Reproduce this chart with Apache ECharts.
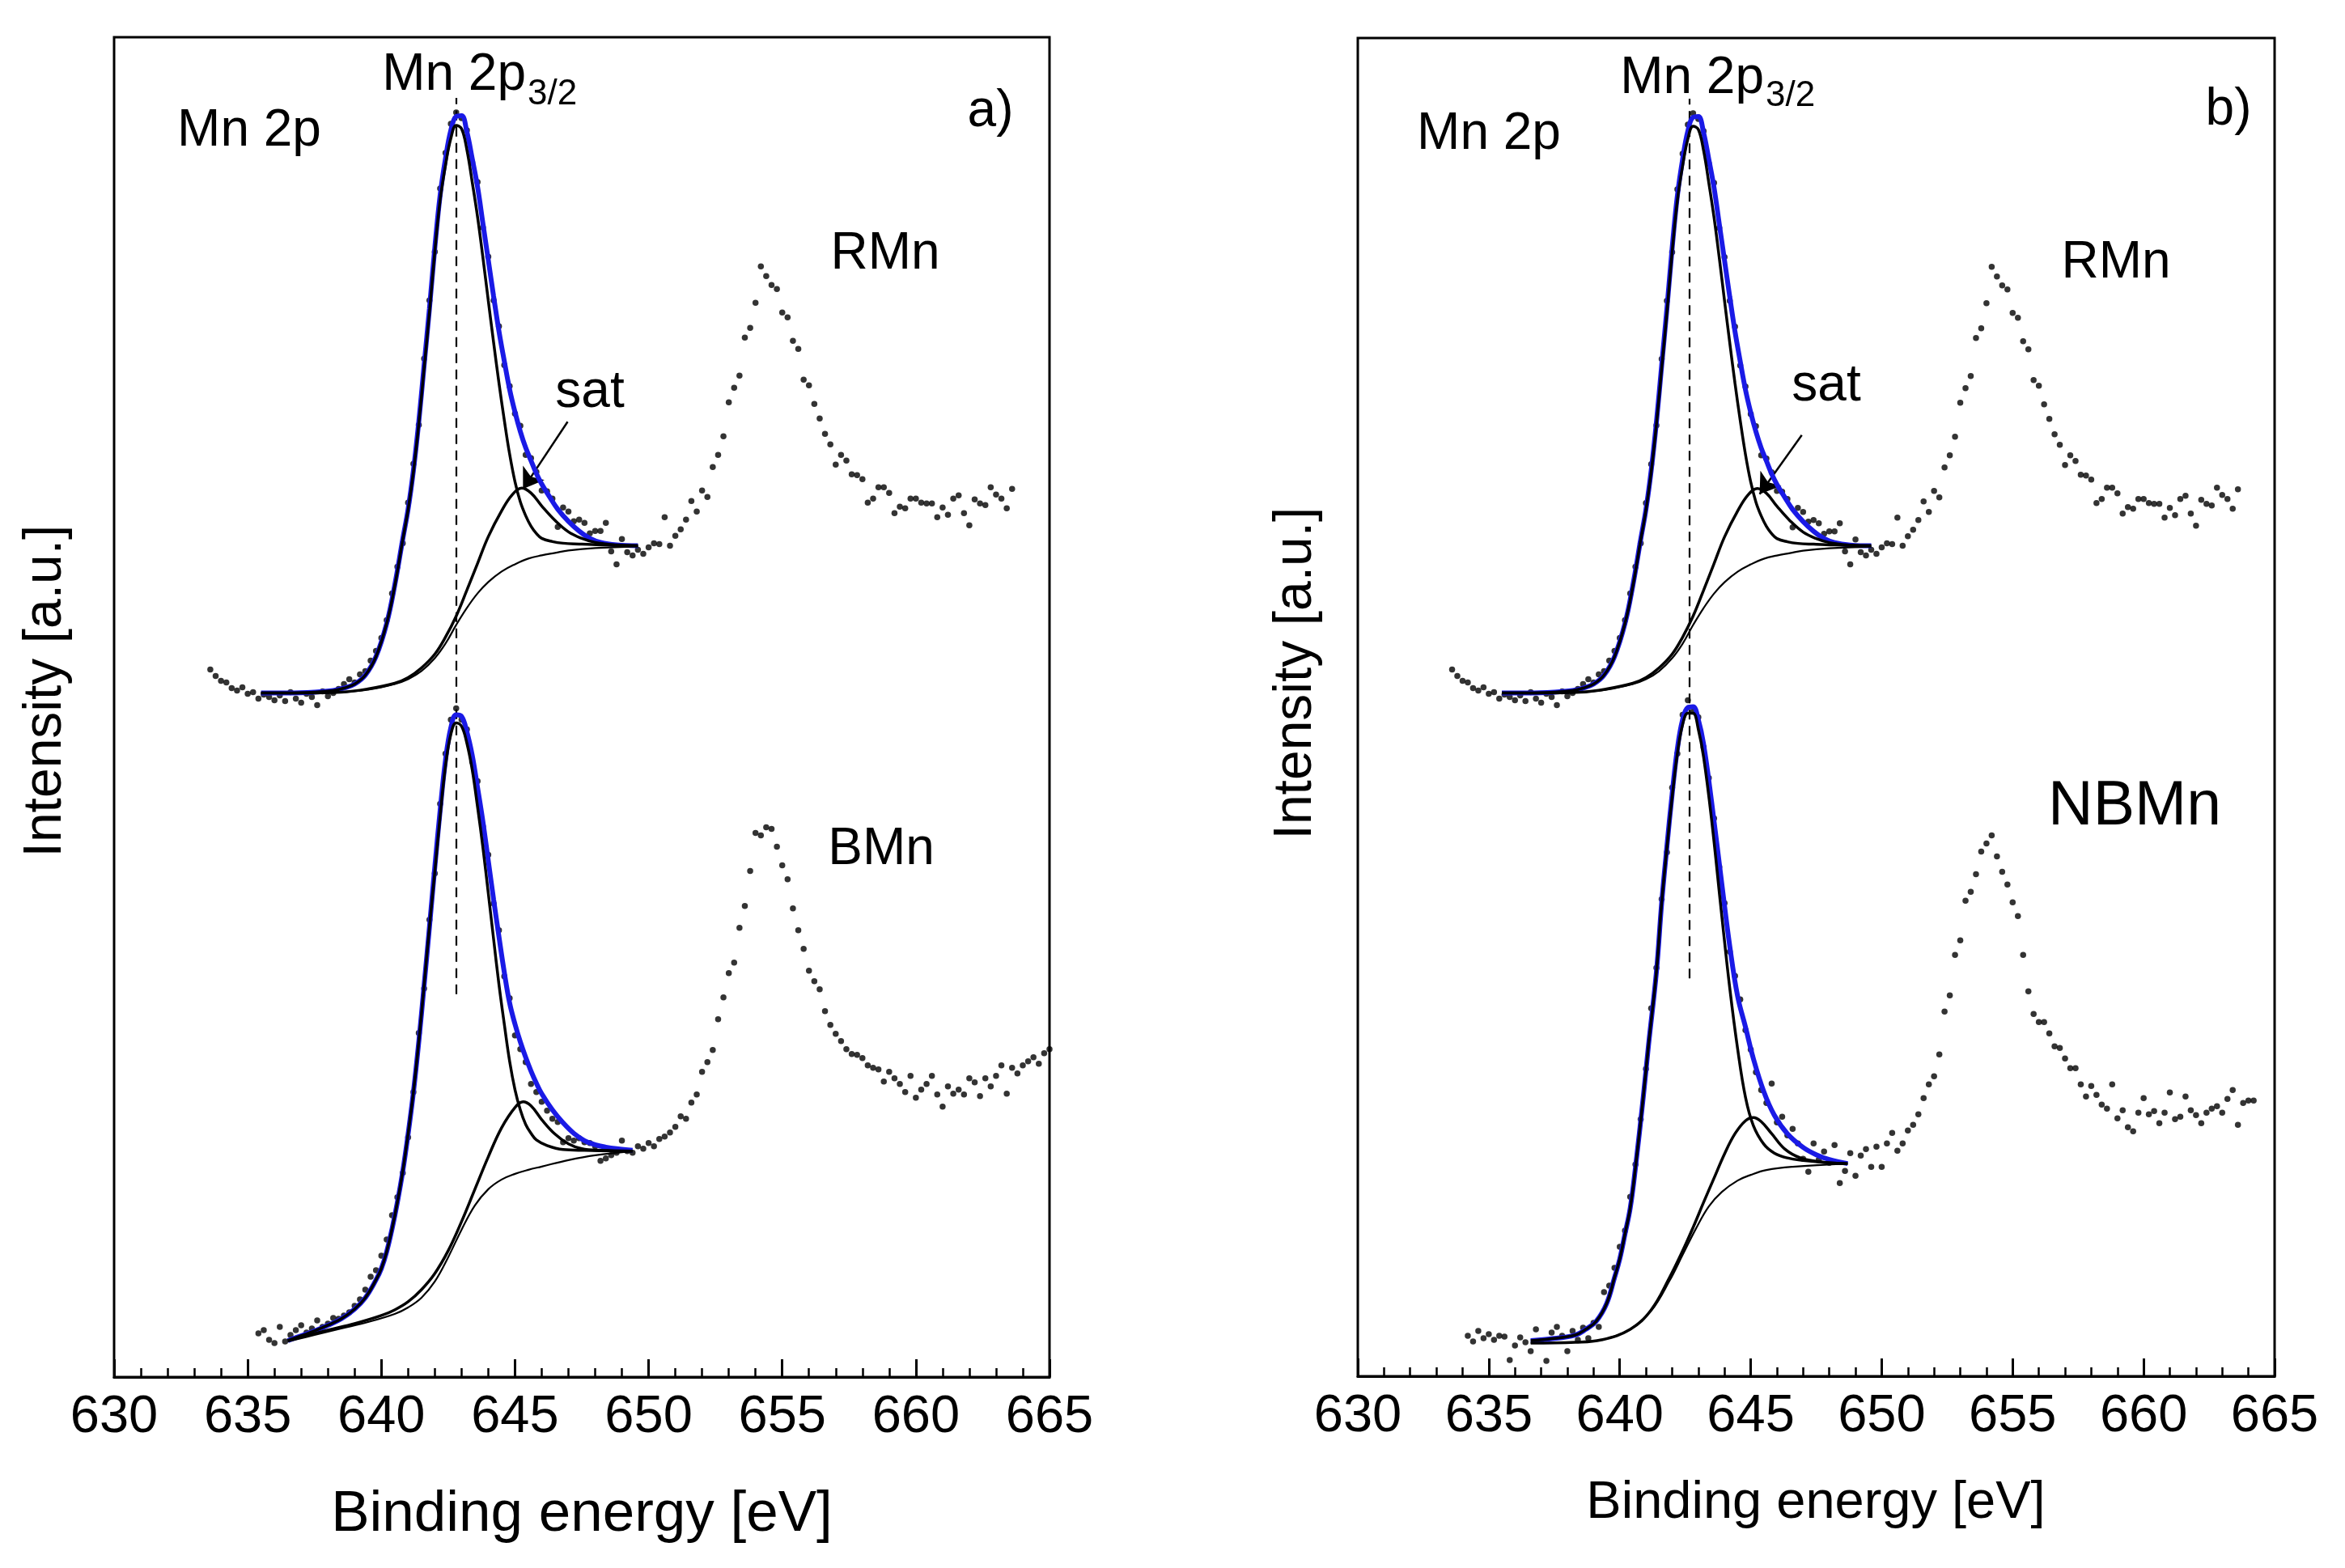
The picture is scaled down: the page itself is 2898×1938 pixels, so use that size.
<!DOCTYPE html>
<html>
<head>
<meta charset="utf-8">
<script src="https://cdn.jsdelivr.net/npm/echarts@6/dist/echarts.min.js"></script>
<style>
  html, body { margin: 0; padding: 0; background: #fff; }
  #chart { width: 2898px; height: 1938px; }
</style>
</head>
<body>
<div id="chart"></div>
<script>
// Mn 2p XPS spectra, intensity in arbitrary units
const eStep = 0.2;

// measured points (every 0.2 eV from the start energy)
const rmnStart = 633.6;
const rmnDots = [
  874, 866, 860, 858, 851, 848, 852, 844, 846, 838, 843, 840, 836,
  842, 835, 846, 838, 833, 844, 840, 830, 847, 841, 845, 850,
  856, 862, 858, 868, 872, 885, 897, 913, 935, 968, 1001, 1030, 1080, 1128, 1176, 1258, 1330,
  1390, 1468, 1512, 1548, 1562, 1555, 1540, 1500, 1476, 1420, 1384, 1330, 1298, 1250, 1224, 1190,
  1175, 1139, 1135, 1118, 1095, 1094, 1085, 1050, 1074, 1069,
  1057, 1059, 1055, 1042, 1045, 1045, 1055, 1020, 1004, 1035,
  1019, 1015, 1022, 1017, 1025, 1030, 1029, 1062, 1027, 1039,
  1047, 1059, 1082, 1069, 1095, 1087, 1124, 1139, 1162, 1204,
  1222, 1237, 1284, 1296, 1327, 1372, 1360, 1349, 1344, 1315,
  1309, 1280, 1270, 1232, 1225, 1202, 1184, 1165, 1152, 1127,
  1139, 1132, 1115, 1114, 1109, 1080, 1085, 1099, 1099, 1092,
  1067, 1075, 1073, 1085, 1085, 1080, 1079, 1079, 1062, 1074,
  1065, 1085, 1089, 1067, 1052, 1084, 1079, 1077, 1099, 1090,
  1085, 1073, 1097
];

const bmnStart = 635.4;
const bmnDots = [
  54, 58, 46, 42, 62, 44, 52, 58, 64, 55, 60, 70, 62, 66, 73, 72, 76, 80, 88, 96,
  108, 124, 132, 150, 170, 200, 222, 252,
  296, 352, 425, 480, 565, 622, 708, 770, 812, 826, 812, 800, 760, 736, 680, 645, 585, 552, 495, 468,
  422, 405, 389, 362, 352, 340, 329, 319, 315, 290,
  295, 292, 295, 290, 289, 285, 267, 270, 274, 277,
  292, 279, 277, 285, 282, 289, 285, 294, 297, 302,
  309, 322, 319, 339, 349, 377, 389, 404, 442, 469,
  499, 512, 555, 582, 625, 672, 669, 679, 677, 655,
  632, 615, 579, 552, 529, 502, 489, 479, 452, 435,
  424, 415, 405, 399, 398, 394, 385, 382, 380, 365,
  377, 369, 362, 352, 372, 345, 355, 362, 372, 349,
  334, 359, 350, 355, 349, 369, 364, 347, 369, 359,
  372, 385, 350, 382, 375, 385, 390, 395, 387, 400,
  405
];

const nbmnStart = 634.2;
const nbmnDots = [
  50, 43, 56, 47, 52, 45, 50, 49, 20, 38, 48, 42, 31, 58, 44, 19, 54, 61, 50, 31,
  56, 45, 60, 47, 66, 61, 104, 112, 134, 160, 180, 222,
  262, 318, 380, 455, 505, 590, 648, 728, 770, 818, 836, 822, 815, 778, 740, 690, 630, 585, 525, 495,
  466, 428, 404, 376, 354, 338, 362, 314, 321, 298,
  306, 288, 269, 253, 288, 268, 278, 264, 286, 239,
  254, 276, 248, 273, 281, 259, 284, 259, 288, 301,
  279, 288, 304, 311, 324, 344, 361, 371, 398, 451,
  471, 521, 539, 588, 599, 621, 649, 659, 669, 643,
  624, 608, 586, 569, 521, 476, 448, 438, 438, 424,
  408, 406, 393, 381, 381, 361, 346, 359, 348, 336,
  331, 361, 319, 329, 308, 303, 326, 344, 324, 328,
  313, 326, 351, 318, 321, 346, 329, 323, 313, 326,
  331, 334, 326, 343, 354, 311, 338, 341, 341
];

// fitted curves [energy, intensity]
const rmnEnvelope = [
  [635.5, 845], [636.5, 845], [637.5, 846], [638.2, 848], [638.6, 851], [639.0, 856], [639.4, 867],
  [639.8, 890], [640.2, 931], [640.5, 978], [640.8, 1035], [641.0, 1072], [641.2, 1120], [641.4, 1180],
  [641.6, 1250], [641.8, 1320], [642.0, 1395], [642.2, 1460], [642.4, 1505], [642.6, 1540], [642.8, 1557],
  [643.0, 1558], [643.2, 1538], [643.4, 1505], [643.6, 1470], [643.8, 1425], [644.0, 1380], [644.2, 1335],
  [644.4, 1292], [644.6, 1255], [644.8, 1220], [645.0, 1192], [645.2, 1168], [645.4, 1148], [645.6, 1132],
  [645.8, 1116], [646.0, 1103], [646.3, 1087], [646.6, 1072], [647.0, 1057], [647.4, 1045], [647.8, 1036],
  [648.2, 1031], [648.8, 1028], [649.6, 1027]
];
const rmnMain = [
  [635.5, 845], [636.5, 845], [637.5, 846], [638.2, 848], [638.6, 851], [639.0, 856], [639.4, 867],
  [639.8, 890], [640.2, 931], [640.5, 977], [640.8, 1034], [641.0, 1071], [641.2, 1118], [641.4, 1177],
  [641.6, 1246], [641.8, 1315], [642.0, 1390], [642.2, 1454], [642.4, 1497], [642.6, 1530], [642.8, 1546],
  [643.0, 1542], [643.2, 1516], [643.4, 1476], [643.6, 1433], [643.8, 1383], [644.0, 1330], [644.2, 1278],
  [644.4, 1228], [644.6, 1182], [644.8, 1140], [645.0, 1106], [645.2, 1081], [645.4, 1064], [645.6, 1051],
  [645.8, 1042], [646.0, 1036], [646.4, 1032], [646.8, 1030], [647.4, 1029], [648.2, 1028], [649.6, 1027]
];
const rmnSat = [
  [635.5, 845], [637.0, 845], [638.5, 846], [639.5, 850], [640.5, 857], [641.0, 864], [641.5, 876],
  [642.0, 893], [642.4, 914], [642.8, 940], [643.2, 972], [643.6, 1005], [644.0, 1038], [644.5, 1070],
  [644.9, 1090], [645.25, 1098], [645.6, 1092], [646.0, 1076], [646.5, 1058], [647.0, 1044], [647.5, 1036],
  [648.0, 1031], [648.8, 1028], [649.6, 1027]
];
const rmnBg = [
  [635.5, 845], [637.0, 845], [638.5, 846], [639.5, 849], [640.5, 856], [641.0, 862], [641.5, 872],
  [642.0, 888], [642.4, 906], [642.8, 929], [643.2, 950], [643.6, 968], [644.0, 982], [644.5, 995],
  [645.0, 1004], [645.5, 1011], [646.0, 1015], [646.5, 1018], [647.0, 1021], [648.0, 1024], [649.6, 1026]
];

const bmnEnvelope = [
  [636.5, 45], [637.0, 51], [637.5, 57], [638.0, 64], [638.5, 72], [639.0, 84], [639.4, 98], [639.8, 120],
  [640.0, 134], [640.2, 155], [640.4, 183], [640.6, 216], [640.8, 254], [641.0, 300], [641.2, 352],
  [641.4, 414], [641.6, 484], [641.8, 556], [642.0, 630], [642.2, 700], [642.4, 762], [642.6, 802],
  [642.8, 818], [643.0, 816], [643.2, 797], [643.4, 768], [643.6, 728], [643.8, 686], [644.0, 638],
  [644.2, 590], [644.4, 544], [644.6, 500], [644.8, 462], [645.0, 436], [645.2, 414], [645.4, 395],
  [645.6, 378], [645.8, 363], [646.0, 350], [646.4, 330], [646.8, 314], [647.2, 301], [647.6, 292],
  [648.0, 287], [648.4, 284], [648.8, 282], [649.4, 280]
];
const bmnMain = [
  [636.5, 45], [637.0, 51], [637.5, 57], [638.0, 64], [638.5, 72], [639.0, 84], [639.4, 98], [639.8, 120],
  [640.0, 134], [640.2, 155], [640.4, 183], [640.6, 216], [640.8, 254], [641.0, 300], [641.2, 352],
  [641.4, 414], [641.6, 484], [641.8, 556], [642.0, 624], [642.2, 693], [642.4, 755], [642.6, 794],
  [642.8, 808], [643.0, 804], [643.2, 783], [643.4, 750], [643.6, 704], [643.8, 654], [644.0, 598],
  [644.2, 541], [644.4, 485], [644.6, 436], [644.8, 390], [645.0, 355], [645.2, 330], [645.4, 312],
  [645.6, 301], [645.8, 293], [646.2, 286], [646.8, 281], [647.6, 280], [649.4, 279]
];
const bmnSat = [
  [636.5, 45], [638.0, 58], [639.0, 66], [640.0, 76], [640.5, 83], [641.0, 93], [641.5, 108], [642.0, 128],
  [642.5, 156], [643.0, 192], [643.5, 232], [644.0, 272], [644.5, 308], [645.0, 333], [645.3, 340],
  [645.6, 335], [646.0, 318], [646.5, 300], [647.0, 288], [647.5, 282], [648.2, 280], [649.4, 279]
];
const bmnBg = [
  [636.5, 44], [637.5, 52], [638.5, 60], [639.5, 68], [640.5, 78], [641.0, 86], [641.5, 98], [642.0, 118],
  [642.5, 148], [643.0, 182], [643.5, 212], [644.0, 232], [644.5, 244], [645.0, 251], [645.5, 256],
  [646.0, 260], [647.0, 268], [648.0, 274], [649.4, 279]
];

const nbmnEnvelope = [
  [636.6, 44], [637.3, 46], [638.3, 51], [638.7, 58], [639.1, 68], [639.5, 90], [639.8, 122], [640.0, 145],
  [640.2, 176], [640.4, 208], [640.6, 258], [640.9, 346], [641.1, 410], [641.4, 500], [641.6, 585],
  [641.8, 655], [642.0, 720], [642.2, 776], [642.4, 812], [642.6, 827], [642.8, 828], [643.0, 812],
  [643.2, 782], [643.5, 712], [643.9, 608], [644.2, 532], [644.5, 470], [644.8, 432], [645.1, 393],
  [645.5, 352], [645.9, 323], [646.4, 300], [647.0, 283], [647.5, 274], [648.0, 268], [648.7, 263]
];
const nbmnMain = [
  [636.6, 44], [637.3, 46], [638.3, 51], [638.7, 58], [639.1, 68], [639.5, 90], [639.8, 122], [640.0, 145],
  [640.2, 176], [640.4, 208], [640.6, 258], [640.9, 346], [641.1, 410], [641.4, 500], [641.6, 585],
  [641.8, 653], [642.0, 716], [642.2, 770], [642.4, 806], [642.6, 820], [642.8, 820], [643.0, 800],
  [643.2, 766], [643.5, 690], [643.9, 568], [644.2, 480], [644.5, 405], [644.8, 345], [645.1, 310],
  [645.5, 287], [645.9, 276], [646.4, 270], [647.0, 267], [648.0, 264], [648.7, 263]
];
const nbmnSat = [
  [636.6, 41], [638.3, 42], [639.3, 45], [640.4, 58], [641.2, 82], [641.9, 122], [642.4, 155], [642.8, 184],
  [643.2, 215], [643.6, 245], [644.0, 275], [644.4, 300], [644.8, 316], [645.1, 320], [645.4, 315],
  [645.8, 300], [646.3, 281], [646.9, 270], [647.7, 265], [648.7, 263]
];
const nbmnBg = [
  [636.6, 41], [638.3, 42], [639.3, 45], [640.0, 52], [640.4, 58], [641.2, 81], [641.9, 118], [642.4, 150],
  [642.9, 182], [643.4, 210], [643.9, 228], [644.5, 242], [645.0, 249], [645.6, 255], [646.6, 259], [648.7, 263]
];

// Mn 2p3/2 position markers and "sat" pointers
const peakLineA = [[642.8, 473], [642.8, 1580]];
const peakLineB = [[642.65, 492], [642.65, 1580]];
const satPointerA = [[646.97, 1180], [645.3, 1097]];
const satPointerB = [[646.95, 1164], [645.34, 1091]];

const FONT = '"Liberation Sans", Arial, Helvetica, sans-serif';

function toPoints(start, values) {
  return values.map((v, i) => [+(start + i * eStep).toFixed(2), v]);
}

function xAxisFor(gridIndex) {
  return {
    gridIndex,
    type: 'value',
    min: 630,
    max: 665,
    interval: 5,
    axisLine: { show: true, onZero: false, lineStyle: { color: '#000', width: 3 } },
    axisTick: { show: true, inside: true, length: 22, lineStyle: { color: '#000', width: 3 } },
    minorTick: { show: true, splitNumber: 5, length: 11, lineStyle: { color: '#000', width: 2.5 } },
    axisLabel: { color: '#000', fontSize: 65, fontFamily: FONT, margin: 18 },
    splitLine: { show: false },
    minorSplitLine: { show: false }
  };
}

function yAxisFor(gridIndex) {
  return { gridIndex, type: 'value', min: 0, max: 1655, show: false, splitLine: { show: false } };
}

function curve(data, idx, color, width) {
  return {
    type: 'line',
    xAxisIndex: idx,
    yAxisIndex: idx,
    data,
    symbol: 'none',
    smooth: 0.4,
    lineStyle: { color, width },
    silent: true
  };
}

function dots(data, idx) {
  return {
    type: 'scatter',
    xAxisIndex: idx,
    yAxisIndex: idx,
    data,
    symbolSize: 7.5,
    itemStyle: { color: '#000' },
    silent: true
  };
}

function segment(coords, idx, opts) {
  return {
    type: 'lines',
    coordinateSystem: 'cartesian2d',
    xAxisIndex: idx,
    yAxisIndex: idx,
    data: [{ coords }],
    symbol: opts.symbol || ['none', 'none'],
    symbolSize: opts.symbolSize || 10,
    lineStyle: { color: '#000', width: opts.width || 2, type: opts.type || 'solid', opacity: 1 },
    silent: true
  };
}

function panelSeries(idx, lower, peakLine, satPointer) {
  return [
    curve(rmnEnvelope, idx, '#1a1ae6', 6),
    curve(rmnBg, idx, '#000', 2.2),
    curve(rmnSat, idx, '#000', 3.5),
    curve(rmnMain, idx, '#000', 3.5),
    curve(lower.envelope, idx, '#1a1ae6', 6),
    curve(lower.bg, idx, '#000', 2.2),
    curve(lower.sat, idx, '#000', 3.5),
    curve(lower.main, idx, '#000', 3.5),
    segment(peakLine, idx, { type: [12, 8], width: 2.2 }),
    segment(satPointer, idx, { symbol: ['none', 'arrow'], symbolSize: 24, width: 2.5 }),
    dots(toPoints(rmnStart, rmnDots), idx),
    dots(lower.dots, idx)
  ];
}

function label(text, x, y, size, align, extra) {
  return Object.assign({
    type: 'text',
    x, y,
    silent: true,
    style: { text, font: size + 'px ' + FONT, fill: '#000', align: align || 'center', verticalAlign: 'middle' }
  }, extra || {});
}

const chart = echarts.init(document.getElementById('chart'), null, { renderer: 'canvas' });

chart.setOption({
  animation: false,
  backgroundColor: '#fff',
  grid: [
    { left: 141, top: 46, width: 1156, height: 1656, show: true, borderColor: '#000', borderWidth: 3, backgroundColor: 'transparent' },
    { left: 1678, top: 47, width: 1133, height: 1654, show: true, borderColor: '#000', borderWidth: 3, backgroundColor: 'transparent' }
  ],
  xAxis: [xAxisFor(0), xAxisFor(1)],
  yAxis: [yAxisFor(0), yAxisFor(1)],
  series: [
    ...panelSeries(0, {
      envelope: bmnEnvelope, main: bmnMain, sat: bmnSat, bg: bmnBg,
      dots: toPoints(bmnStart, bmnDots)
    }, peakLineA, satPointerA),
    ...panelSeries(1, {
      envelope: nbmnEnvelope, main: nbmnMain, sat: nbmnSat, bg: nbmnBg,
      dots: toPoints(nbmnStart, nbmnDots)
    }, peakLineB, satPointerB)
  ],
  graphic: [
    // panel a
    label('Mn 2p', 308, 162, 64),
    label('Mn 2p', 650, 93, 64, 'right'),
    label('3/2', 652, 117, 44, 'left'),
    label('a)', 1224, 138, 64),
    label('RMn', 1094, 314, 64),
    label('sat', 729, 485, 64),
    label('BMn', 1089, 1050, 64),
    label('Intensity [a.u.]', 57, 854, 66, 'center', { rotation: Math.PI / 2 }),
    label('Binding energy [eV]', 719, 1872, 71),
    // panel b
    label('Mn 2p', 1840, 166, 64),
    label('Mn 2p', 2180, 97, 64, 'right'),
    label('3/2', 2182, 119, 44, 'left'),
    label('b)', 2754, 136, 64),
    label('RMn', 2615, 325, 64),
    label('sat', 2257, 477, 64),
    label('NBMn', 2638, 998, 77),
    label('Intensity [a.u.]', 1602, 832, 66, 'center', { rotation: Math.PI / 2 }),
    label('Binding energy [eV]', 2244, 1858, 65)
  ]
});
</script>
</body>
</html>
